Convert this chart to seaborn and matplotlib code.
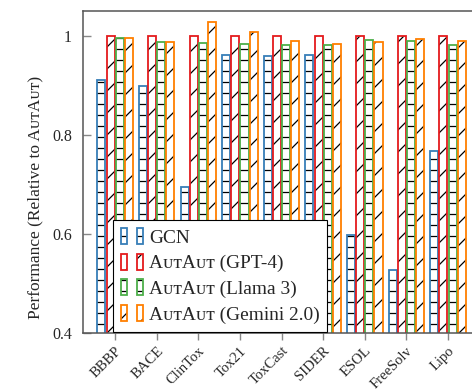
import numpy as np
import pandas as pd
import matplotlib.pyplot as plt
import seaborn as sns
from matplotlib.patches import Patch
from matplotlib.legend_handler import HandlerTuple
from matplotlib.colors import to_rgba

# --- Data (performance relative to AutAut GPT-4) ---
categories = ["BBBP", "BACE", "ClinTox", "Tox21", "ToxCast", "SIDER", "ESOL", "FreeSolv", "Lipo"]
methods = ["GCN", "AᴜᴛAᴜᴛ (GPT-4)", "AᴜᴛAᴜᴛ (Llama 3)", "AᴜᴛAᴜᴛ (Gemini 2.0)"]
gcn = [0.910, 0.899, 0.694, 0.961, 0.959, 0.962, 0.597, 0.527, 0.768]
gpt4 = [1.0, 1.0, 1.0, 1.0, 1.0, 1.0, 1.0, 1.0, 1.0]
llama = [0.996, 0.988, 0.986, 0.983, 0.981, 0.982, 0.991, 0.989, 0.981]
gemini = [0.996, 0.988, 1.028, 1.007, 0.989, 0.983, 0.988, 0.994, 0.989]

colors = ["#377eb8", "#e41a1c", "#4daf4a", "#ff7f00"]
hatches = ["--", "//", "--", "//"]

df = pd.DataFrame({
    "dataset": categories * 4,
    "method": np.repeat(methods, len(categories)),
    "score": gcn + gpt4 + llama + gemini,
})

# render at dpi 132 so the hatch spacing comes out ~11 px; sizes below are
# given as if at dpi 100 and scaled with k
DPI = 132
k = 100 / DPI

sns.set_style("white")
plt.rcParams["font.family"] = ["Liberation Serif", "DejaVu Serif"]
plt.rcParams["hatch.linewidth"] = 0.9 * k


def black_hatch(p):
    if hasattr(p, "set_hatchcolor"):
        p.set_hatchcolor("black")
    else:
        p._hatch_color = to_rgba("black")


fig = plt.figure(figsize=(472 / DPI, 391 / DPI), dpi=DPI)
ax = fig.add_axes([0.176, 0.148, 0.841, 0.824])

sns.barplot(data=df, x="dataset", y="score", hue="method", hue_order=methods,
            palette=colors, width=0.88, gap=0.12, legend=False, ax=ax)

for container, c, h in zip(ax.containers, colors, hatches):
    for bar in container:
        bar.set_facecolor("white")
        bar.set_edgecolor(c)
        bar.set_linewidth(1.3 * k)
        bar.set_hatch(h)
        black_hatch(bar)

ax.set_ylim(0.4, 1.05)
ax.set_xlim(-0.77, 8.77)
ax.set_yticks([0.4, 0.6, 0.8, 1.0])
ax.set_yticklabels(["0.4", "0.6", "0.8", "1"])
ax.set_xticks(range(len(categories)))
ax.set_xticklabels(categories, rotation=45, ha="right", rotation_mode="anchor")
ax.tick_params(axis="y", left=True, direction="in", length=6 * k, width=1 * k,
               color="#888888", labelsize=11.5 * k, pad=8 * k)
ax.tick_params(axis="x", bottom=True, direction="out", length=5 * k, width=1 * k,
               color="#888888", labelsize=10.5 * k, pad=3 * k)
for s in ax.spines.values():
    s.set_color("#555555")
    s.set_linewidth(1.1 * k)

ax.set_xlabel("")
ax.set_ylabel("Performance (Relative to AᴜᴛAᴜᴛ)", fontsize=12.5 * k)
ax.yaxis.set_label_coords(-0.10, 0.42)

# legend with paired boxes per entry
handles = []
for c, h in zip(colors, hatches):
    pair = []
    for _ in range(2):
        p = Patch(facecolor="white", edgecolor=c, hatch=h, linewidth=1.3 * k)
        black_hatch(p)
        pair.append(p)
    handles.append(tuple(pair))

leg = ax.legend(handles, methods, handler_map={tuple: HandlerTuple(ndivide=None, pad=0.5)},
                loc="lower left", bbox_to_anchor=(0.075, 0.005), fontsize=14 * k,
                frameon=True, fancybox=False, edgecolor="black", framealpha=1,
                handlelength=1.15, handleheight=0.9, handletextpad=0.3,
                labelspacing=0.35, borderpad=0.4, borderaxespad=0)
leg.get_frame().set_linewidth(0.8 * k)

fig.savefig("out.png", dpi=DPI)
